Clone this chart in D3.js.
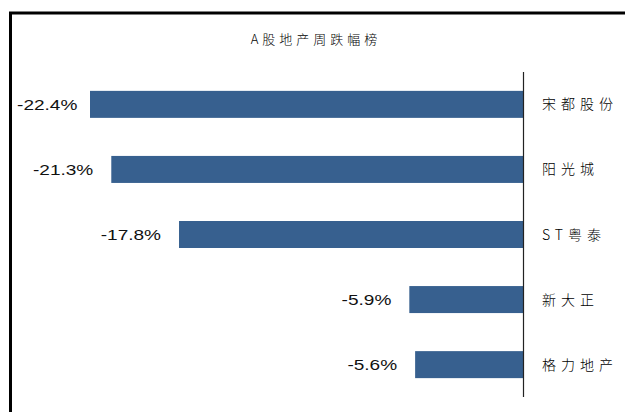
<!DOCTYPE html>
<html>
<head>
<meta charset="utf-8">
<script src="https://cdn.jsdelivr.net/npm/d3@7/dist/d3.min.js"></script>
<style>
  html, body { margin: 0; padding: 0; background: #fff; }
  svg { display: block; }
</style>
</head>
<body>
<svg id="chart" width="625" height="412"></svg>
<script>
const title = "A股地产周跌幅榜";
const categories = ["宋都股份", "阳光城", "ST粤泰", "新大正", "格力地产"];
const values = [-22.4, -21.3, -17.8, -5.9, -5.6];
const valueLabels = ["-22.4%", "-21.3%", "-17.8%", "-5.9%", "-5.6%"];

const svg = d3.select("#chart");

// frame (top and left edges visible)
svg.append("path")
  .attr("d", "M10.5,412 L10.5,13 L625,13")
  .attr("fill", "none")
  .attr("stroke", "#000")
  .attr("stroke-width", 3);

// title
svg.append("text")
  .attr("x", 316).attr("y", 44)
  .attr("text-anchor", "middle")
  .attr("font-family", "'Noto Sans CJK SC', sans-serif")
  .attr("font-size", 13)
  .attr("font-weight", 300)
  .attr("letter-spacing", 4)
  .attr("fill", "#000")
  .text(title);

const x = d3.scaleLinear().domain([-22.4, 0]).range([90, 523.5]);
const y = d3.scaleBand().domain(categories).range([72, 397]).paddingInner(0.585).paddingOuter(0.29);

const data = categories.map((c, i) => ({ c, v: values[i], l: valueLabels[i] }));

svg.append("g").selectAll("rect").data(data).join("rect")
  .attr("x", d => x(d.v))
  .attr("y", d => y(d.c))
  .attr("width", d => x(0) - x(d.v))
  .attr("height", y.bandwidth())
  .attr("fill", "#37608f");

// zero axis
svg.append("line")
  .attr("x1", x(0)).attr("x2", x(0))
  .attr("y1", 72).attr("y2", 397)
  .attr("stroke", "#222").attr("stroke-width", 1.2);

// category labels
svg.append("g").selectAll("text").data(data).join("text")
  .attr("x", 542)
  .attr("y", d => y(d.c) + y.bandwidth() / 2 + 5)
  .attr("font-family", "'Noto Sans CJK SC', sans-serif")
  .attr("font-size", 14)
  .attr("font-weight", 300)
  .attr("letter-spacing", 5)
  .attr("fill", "#000")
  .text(d => d.c);

// value labels (horizontally stretched like the original)
const sx = 1.27;
const vl = svg.append("g").selectAll("g").data(data).join("g");
vl.each(function (d) {
  const g = d3.select(this);
  const t = g.append("text")
    .attr("x", 0).attr("y", 0)
    .attr("text-anchor", "end")
    .attr("font-family", "'Liberation Sans', Arial, sans-serif")
    .attr("font-size", 15)
    .attr("fill", "#111")
    .text(d.l);
  const w = t.node().getComputedTextLength() * sx;
  const endX = Math.max(x(d.v) - 18, 17 + w);
  g.attr("transform", `translate(${endX},${y(d.c) + y.bandwidth() / 2 + 5.5}) scale(${sx},1)`);
});
</script>
</body>
</html>
